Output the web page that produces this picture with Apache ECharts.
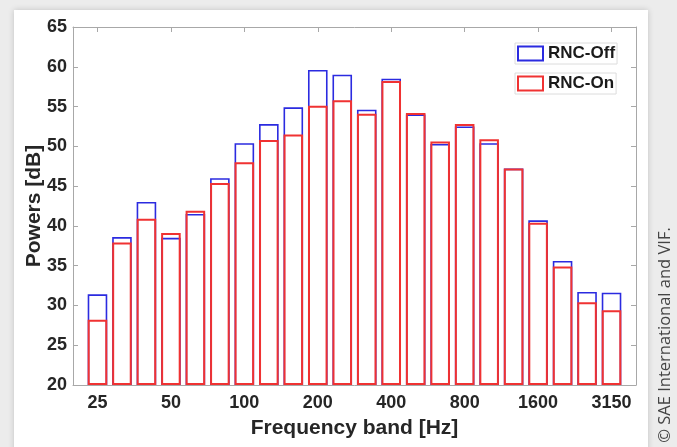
<!DOCTYPE html>
<html>
<head>
<meta charset="utf-8">
<script src="https://cdn.jsdelivr.net/npm/echarts@6/dist/echarts.min.js"></script>
<style>
  html, body { margin: 0; padding: 0; background: #ececec; overflow: hidden; }
  #panel { position: absolute; left: 14px; top: 10px; width: 634px; height: 460px; background: #ffffff; box-shadow: 0 0 6px rgba(0,0,0,0.18); }
  #chart { position: absolute; left: 0; top: 0; width: 677px; height: 447px; }
</style>
</head>
<body>
<div id="panel"></div>
<div id="chart"></div>
<script>
// Frequency bands [Hz]
const categories = ['25','31.5','40','50','63','80','100','125','160','200','250','315','400','500','630','800','1000','1250','1600','2000','2500','3150'];
// Powers [dB]
const rncOff = [31.4, 38.6, 43.0, 38.5, 41.5, 46.0, 50.4, 52.8, 54.9, 59.6, 59.0, 54.6, 58.5, 54.0, 50.3, 52.5, 50.4, 47.2, 40.7, 35.6, 31.7, 31.6];
const rncOn  = [28.2, 37.9, 40.9, 39.1, 41.9, 45.4, 48.0, 50.8, 51.5, 55.1, 55.8, 54.1, 58.2, 54.2, 50.6, 52.8, 50.9, 47.2, 40.4, 34.9, 30.4, 29.4];
const yMin = 20, yMax = 65, yStep = 5;
const seriesNames = ['RNC-Off', 'RNC-On'];

// padded category axis (one empty slot on each side, like the MATLAB xlim)
const axisCats = [''].concat(categories, ['']);
const pad = arr => ['-'].concat(arr, ['-']);
const showIdx = idx => idx >= 1 && idx <= categories.length && (idx - 1) % 3 === 0;

const chart = echarts.init(document.getElementById('chart'), null, { renderer: 'canvas' });
const labelFont = { fontFamily: 'Liberation Sans, Arial, sans-serif', fontWeight: 'bold', fontSize: 18, color: '#262626' };
const nameFont = { fontFamily: 'Liberation Sans, Arial, sans-serif', fontWeight: 'bold', fontSize: 21, color: '#262626' };
const axisGray = '#a8a8a8';

const option = {
  backgroundColor: 'transparent',
  animation: false,
  grid: { left: 73, right: 41, top: 27, bottom: 62, containLabel: false },
  xAxis: [{
    type: 'category', data: axisCats, boundaryGap: false, position: 'bottom',
    name: 'Frequency band [Hz]', nameLocation: 'middle', nameGap: 33, nameMoveOverlap: false,
    nameTextStyle: nameFont,
    axisLine: { lineStyle: { color: axisGray, width: 1 } },
    axisTick: { inside: true, length: 5, interval: showIdx, lineStyle: { color: axisGray } },
    axisLabel: Object.assign({ interval: showIdx, margin: 9 }, labelFont),
    splitLine: { show: false }
  }, {
    type: 'category', data: axisCats, boundaryGap: false, position: 'top',
    axisLine: { lineStyle: { color: axisGray, width: 1 } },
    axisTick: { inside: true, length: 5, interval: showIdx, lineStyle: { color: axisGray } },
    axisLabel: { show: false }, splitLine: { show: false }
  }],
  yAxis: [{
    type: 'value', min: yMin, max: yMax, interval: yStep, startValue: yMin,
    name: 'Powers [dB]', nameLocation: 'middle', nameGap: 28, nameMoveOverlap: false,
    nameTextStyle: nameFont,
    axisLine: { show: true, lineStyle: { color: axisGray, width: 1 } },
    axisTick: { show: true, inside: true, length: 5, lineStyle: { color: axisGray } },
    axisLabel: Object.assign({ margin: 6 }, labelFont),
    splitLine: { show: false }
  }, {
    type: 'value', min: yMin, max: yMax, interval: yStep, position: 'right',
    axisLine: { show: true, lineStyle: { color: axisGray, width: 1 } },
    axisTick: { show: true, inside: true, length: 5, lineStyle: { color: axisGray } },
    axisLabel: { show: false }, splitLine: { show: false }
  }],
  legend: [0, 1].map(i => ({
    data: [seriesNames[i]],
    left: 515, top: i === 0 ? 43 : 73,
    orient: 'vertical', icon: 'rect', itemWidth: 25, itemHeight: 14,
    padding: [2, 2, 2, 2], borderColor: '#dcdcdc', borderWidth: 1, backgroundColor: '#ffffff',
    textStyle: { fontFamily: 'Liberation Sans, Arial, sans-serif', fontWeight: 'bold', fontSize: 17, color: '#1a1a1a' },
    selectedMode: false
  })),
  series: [{
    name: seriesNames[0], type: 'bar', data: pad(rncOff), barWidth: '80%', barGap: '-100%', clip: false,
    itemStyle: { color: '#ffffff', borderColor: '#2b2be0', borderWidth: 1.6 }
  }, {
    name: seriesNames[1], type: 'bar', data: pad(rncOn), barWidth: '80%', barGap: '-100%', clip: false,
    itemStyle: { color: 'rgba(255,255,255,0)', borderColor: '#f03232', borderWidth: 2.0 }
  }],
  graphic: [{
    type: 'text', x: 665, y: 335, rotation: Math.PI / 2,
    style: { text: '© SAE International and VIF.', fontFamily: 'Open Sans, sans-serif', fontSize: 16.5, fill: '#444444', align: 'center', verticalAlign: 'middle' }
  }]
};
chart.setOption(option);
</script>
</body>
</html>
